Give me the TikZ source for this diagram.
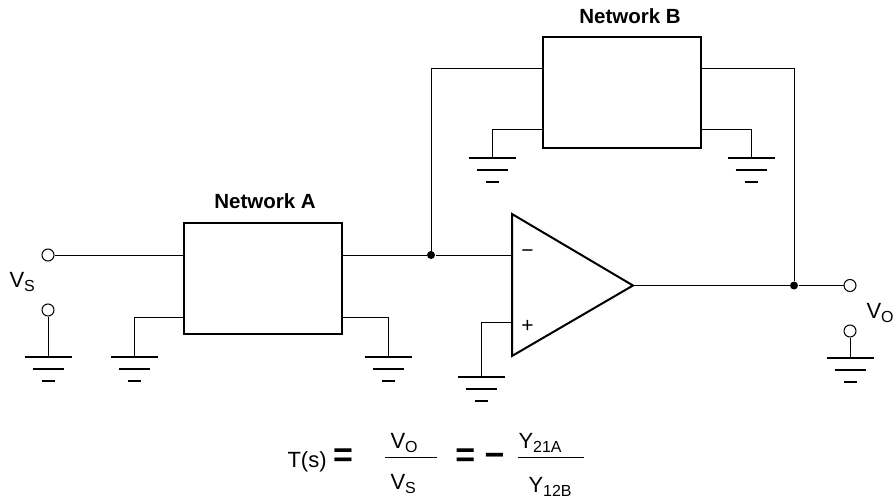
\documentclass[tikz,border=0pt]{standalone}
\usepackage{fontspec}
\setmainfont{Liberation Sans}
\usetikzlibrary{positioning,calc}
\newcommand\lowtxt[1]{\raisebox{-4pt}{\fontsize{16}{16}\selectfont #1}}
\tikzset{
	gnd/.pic={\draw[line width=1.3pt] (-23.5,0)--(23.5,0) (-15.5,12)--(15.5,12) (-6.5,24)--(6.5,24);},
	netbox/.style={draw,line width=2pt,minimum width=158pt,minimum height=111pt,inner sep=0pt},
	term/.style={circle,draw,fill=white,minimum size=12pt,inner sep=0pt},
	jdot/.style={circle,fill,minimum size=8pt,inner sep=0pt},
	bigsign/.style={font=\fontsize{34}{34}\selectfont\bfseries,inner sep=0pt},
}
\begin{document}
\begin{tikzpicture}[x=1pt,y=-1pt,line width=1pt,font=\fontsize{22}{24}\selectfont]
	\useasboundingbox (0,0) rectangle (894,500);
	\node[netbox] (netA) at (263,278.5) {};
	\node[netbox] (netB) at (621.5,93) {};
	\node[anchor=base,inner sep=0pt,font=\fontsize{20.5}{24}\selectfont\bfseries] (labA) at (265,208) {Network A};
	\node[anchor=base,inner sep=0pt,font=\fontsize{20.5}{24}\selectfont\bfseries] (labB) at (630,24) {Network B};
	\coordinate (oa1) at (512,214);
	\coordinate (oa2) at (512,356);
	\coordinate (oaOut) at (633,285.5);
	\coordinate (inM) at (512,255);
	\coordinate (inP) at (512,322);
	\draw[line width=2pt,line join=miter] (oa1)--(oaOut)--(oa2)--cycle;
	\node[font=\fontsize{21}{21}\selectfont,inner sep=0pt] (sgnM) at (527.5,254) {\char"2212};
	\node[font=\fontsize{21}{21}\selectfont,inner sep=0pt] (sgnP) at (527.5,326) {+};
	\node[term] (vsA) at (48,255) {};
	\node[term] (vsB) at (48,310) {};
	\node[term] (voA) at (850,285.5) {};
	\node[term] (voB) at (850,331) {};
	\node[anchor=base west,inner sep=0pt] (labVs) at (9,287) {V\lowtxt{S}};
	\node[anchor=base west,inner sep=0pt] (labVo) at (866,318) {V\lowtxt{O}};
	\node[jdot] (j1) at (431,255) {};
	\node[jdot] (j2) at (794,285.5) {};
	\coordinate (fb) at (0,69);
	\coordinate (tapA1) at (134,317);
	\coordinate (tapA2) at (388,317);
	\coordinate (tapB1) at (492,130);
	\coordinate (tapB2) at (751,130);
	\coordinate (tapP) at (481,322);
	\coordinate (gVs) at (48,357);
	\coordinate (gA1) at (134,357);
	\coordinate (gA2) at (388,357);
	\coordinate (gB1) at (492,158);
	\coordinate (gB2) at (751,158);
	\coordinate (gP) at (481,377);
	\coordinate (gVo) at (850,358);
	\foreach \g in {gVs,gA1,gA2,gB1,gB2,gP,gVo}
	\pic at (\g) {gnd};
	\draw (vsA) -- (vsA -| netA.west);
	\draw (vsB) -- (gVs);
	\draw (tapA1 -| netA.west) -- (tapA1) -- (gA1);
	\draw (tapA2 -| netA.east) -- (tapA2) -- (gA2);
	\draw (netA.east |- j1) -- (j1) -- (inM);
	\draw (j1) |- (netB.west |- fb);
	\draw (netB.east |- fb) -| (j2);
	\draw (tapB1 -| netB.west) -- (tapB1) -- (gB1);
	\draw (tapB2 -| netB.east) -- (tapB2) -- (gB2);
	\draw (oaOut) -- (j2) -- (voA);
	\draw (voB) -- (gVo);
	\draw (inP) -- (tapP) -- (gP);
	\node[anchor=base west,inner sep=0pt] (ts) at (287,467) {T(s)};
	\node[bigsign] (eq1) at (343,458) {=};
	\coordinate (b1L) at (385,457);
	\coordinate (b1R) at (437,457);
	\draw (b1L) -- (b1R);
	\node[anchor=base west,inner sep=0pt] (numA) at (390,448) {V\lowtxt{O}};
	\node[anchor=base west,inner sep=0pt] (denA) at (390,489) {V\lowtxt{S}};
	\node[bigsign] (eq2) at (480,458) {= \char"2212};
	\coordinate (b2L) at (518,457);
	\coordinate (b2R) at (584,457);
	\draw (b2L) -- (b2R);
	\node[anchor=base west,inner sep=0pt] (numB) at (518,448) {Y\lowtxt{21A}};
	\node[anchor=base west,inner sep=0pt] (denB) at (528,492) {Y\lowtxt{12B}};
\end{tikzpicture}
\end{document}
